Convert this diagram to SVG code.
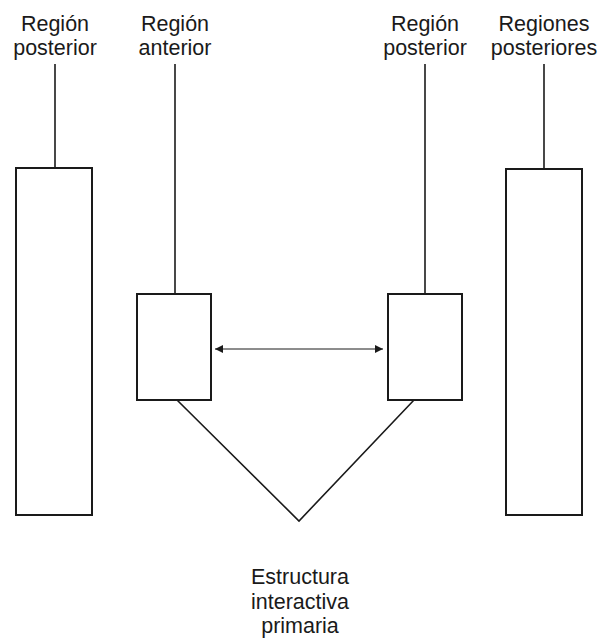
<svg xmlns="http://www.w3.org/2000/svg" width="599" height="638" viewBox="0 0 599 638">
<style>
.box{fill:#fff;stroke:#1a1a1a;stroke-width:2}
.ln{fill:none;stroke:#1a1a1a;stroke-width:1.6}
.lbl{font-family:"Liberation Sans",Arial,sans-serif;font-size:21.5px;fill:#1a1a1a;text-anchor:middle}
</style>
<defs>
<marker id="ah" viewBox="0 0 10 10" refX="10" refY="5" markerWidth="11" markerHeight="8" markerUnits="userSpaceOnUse" orient="auto-start-reverse">
<path d="M0,0 L10,5 L0,10 z" fill="#1a1a1a"/>
</marker>
</defs>
<rect width="599" height="638" fill="#fff"/>
<g id="connectors">
<line class="ln" x1="55" y1="64" x2="55" y2="168"/>
<line class="ln" x1="175" y1="64" x2="175" y2="294"/>
<line class="ln" x1="425" y1="64" x2="425" y2="294"/>
<line class="ln" x1="544" y1="64" x2="544" y2="169"/>
<line x1="215" y1="349" x2="383" y2="349" stroke="#1a1a1a" stroke-width="1" marker-start="url(#ah)" marker-end="url(#ah)"/>
<polyline class="ln" points="177,400 299,521 414,400"/>
</g>
<g id="n1">
<rect class="box" x="16" y="168" width="76" height="347"/>
<text class="lbl" x="55" y="31">Región</text>
<text class="lbl" x="55" y="55">posterior</text>
</g>
<g id="n2">
<rect class="box" x="137" y="294" width="74" height="106"/>
<text class="lbl" x="175" y="31">Región</text>
<text class="lbl" x="175" y="55">anterior</text>
</g>
<g id="n3">
<rect class="box" x="388" y="294" width="74" height="106"/>
<text class="lbl" x="425" y="31">Región</text>
<text class="lbl" x="425" y="55">posterior</text>
</g>
<g id="n4">
<rect class="box" x="506" y="169" width="76" height="346"/>
<text class="lbl" x="544" y="31">Regiones</text>
<text class="lbl" x="544" y="55">posteriores</text>
</g>
<g id="n5">
<text class="lbl" x="300" y="584">Estructura</text>
<text class="lbl" x="300" y="609">interactiva</text>
<text class="lbl" x="300" y="633">primaria</text>
</g>
</svg>
